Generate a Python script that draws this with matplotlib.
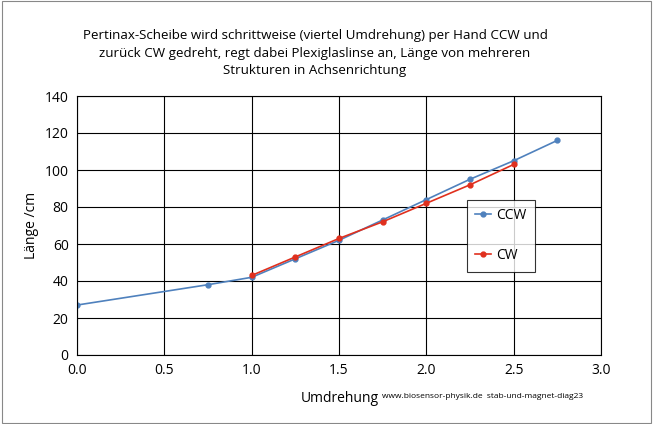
import matplotlib.pyplot as plt
from matplotlib.patches import Rectangle

plt.rcParams['font.family'] = ['Open Sans', 'DejaVu Sans']

# data
ccw_x = [0.0, 0.75, 1.0, 1.25, 1.5, 1.75, 2.0, 2.25, 2.5, 2.75]
ccw_y = [27, 38, 42, 52, 62, 73, 84, 95, 105, 116]
cw_x = [1.0, 1.25, 1.5, 1.75, 2.0, 2.25, 2.5]
cw_y = [43, 53, 63, 72, 82, 92, 103]

W, H = 653, 424
fig = plt.figure(figsize=(W / 100, H / 100), dpi=100)
fig.patches.append(Rectangle((0.003, 0.003), 0.994, 0.994, transform=fig.transFigure,
                             fill=False, edgecolor='#888888', lw=0.8))
ax = fig.add_axes([77 / W, 1 - 355 / H, (601 - 77) / W, (355 - 96) / H])

ax.plot(ccw_x, ccw_y, color='#4f81bd', marker='o', ms=3.5, lw=1.2, label='CCW')
ax.plot(cw_x, cw_y, color='#e0301e', marker='o', ms=3.5, lw=1.2, label='CW')

ax.set_xlim(0, 3.0)
ax.set_ylim(0, 140)
ax.set_xticks([0, 0.5, 1.0, 1.5, 2.0, 2.5, 3.0])
ax.set_xticklabels(['0.0', '0.5', '1.0', '1.5', '2.0', '2.5', '3.0'])
ax.set_yticks(range(0, 141, 20))
ax.grid(True, color='black', lw=0.8)
ax.set_axisbelow(True)
for s in ax.spines.values():
    s.set_color('black')
    s.set_linewidth(0.8)
ax.tick_params(length=0, labelsize=10, pad=6)
ax.set_ylabel('Länge /cm', fontsize=10)

fig.text(315 / W, 1 - 53 / H,
         'Pertinax-Scheibe wird schrittweise (viertel Umdrehung) per Hand CCW und\n'
         'zurück CW gedreht, regt dabei Plexiglaslinse an, Länge von mehreren\n'
         'Strukturen in Achsenrichtung',
         ha='center', va='center', fontsize=9.6, linespacing=1.45)
fig.text(340 / W, 1 - 398 / H, 'Umdrehung', ha='center', va='center', fontsize=10)
fig.text(382 / W, 1 - 396 / H, 'www.biosensor-physik.de  stab-und-magnet-diag23',
         ha='left', va='center', fontsize=6)

leg = ax.legend(loc='upper left', bbox_to_anchor=((467 - 77) / (601 - 77), (355 - 200) / (355 - 96)),
                frameon=True, fancybox=False, edgecolor='black', fontsize=10,
                handlelength=1.1, handletextpad=0.4, borderpad=0.6,
                borderaxespad=0, labelspacing=1.8)
leg.get_frame().set_linewidth(0.8)

fig.savefig('out.png', dpi=100)
